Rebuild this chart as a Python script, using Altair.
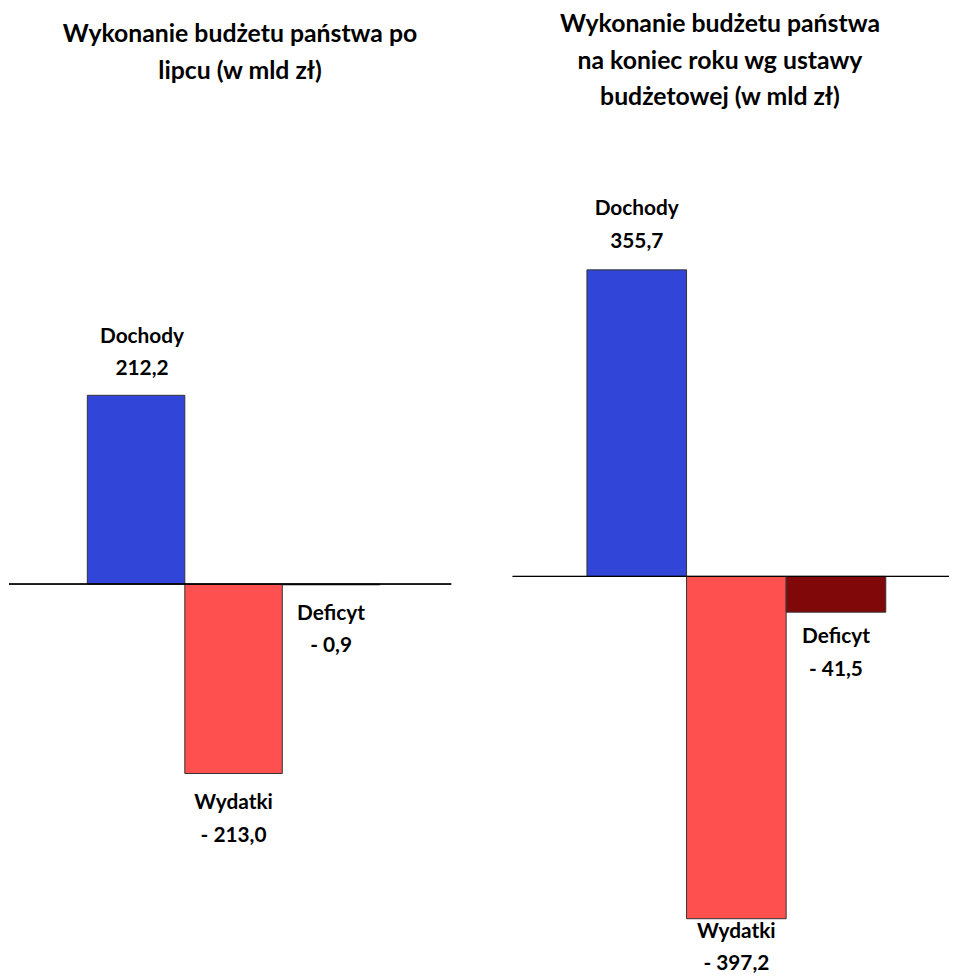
import altair as alt
import pandas as pd

categories = ["Dochody", "Wydatki", "Deficyt"]
values_lipiec = [212.2, -213.0, -0.9]
values_rok = [355.7, -397.2, -41.5]
colors = ["#3146D8", "#FF5050", "#800808"]
title_left = ["Wykonanie budżetu państwa po", "lipcu (w mld zł)"]
title_right = ["Wykonanie budżetu państwa", "na koniec roku wg ustawy", "budżetowej (w mld zł)"]

FONT = "Lato"


def fmt(v):
    s = f"{abs(v):.1f}".replace(".", ",")
    return s if v >= 0 else "- " + s


def panel(values, title, domain, width, height, pad_outer, align, dys, dxs,
          title_dx, title_offset):
    df = pd.DataFrame({
        "kat": categories,
        "val": values,
        "base": [0.0] * len(categories),
        "label": [f"{c}\n{fmt(v)}" for c, v in zip(categories, values)],
    })
    x = alt.X("kat:N", sort=categories, title=None,
              scale=alt.Scale(paddingInner=0, paddingOuter=pad_outer, align=align))
    y = alt.Y("val:Q", title=None,
              scale=alt.Scale(domain=domain, nice=False, zero=False))
    bars = alt.Chart(df).mark_bar(stroke="#333333", strokeWidth=1).encode(
        x=x, y=y, y2=alt.Y2("base"),
        color=alt.Color("kat:N", scale=alt.Scale(domain=categories, range=colors), legend=None),
    )
    rule = alt.Chart(df).mark_rule(color="black", strokeWidth=1).encode(y=alt.Y("base:Q"))
    texts = []
    for i, (dy, dx) in enumerate(zip(dys, dxs)):
        texts.append(
            alt.Chart(df.iloc[[i]]).mark_text(
                lineBreak="\n", dy=dy, dx=dx, baseline="middle", align="center",
                font=FONT, fontWeight="bold", fontSize=21, lineHeight=33, color="black",
            ).encode(x=x, y=y, text="label:N")
        )
    return alt.layer(bars, rule, *texts).properties(
        width=width, height=height,
        title=alt.TitleParams(text=title, font=FONT, fontWeight="bold", fontSize=25,
                              lineHeight=37, anchor="middle", color="black",
                              dx=title_dx, offset=title_offset),
    )


left = panel(values_lipiec, title_left, [-254.4, 526], 446, 700, 0.768, 0.523,
             [-59, 30, 29], [6, 0, 0], 10, 33)
right = panel(values_rok, title_right, [-421, 534], 440, 830, 0.69, 0.54,
              [-61, 13, 25], [0, 0, 0], -11, 6)

chart = (alt.hconcat(left, right, spacing=60)
         .properties(padding=0)
         .configure_view(strokeWidth=0)
         .configure_axis(disable=True))
chart.save("out.html", embed_options={"renderer": "svg", "actions": False})
